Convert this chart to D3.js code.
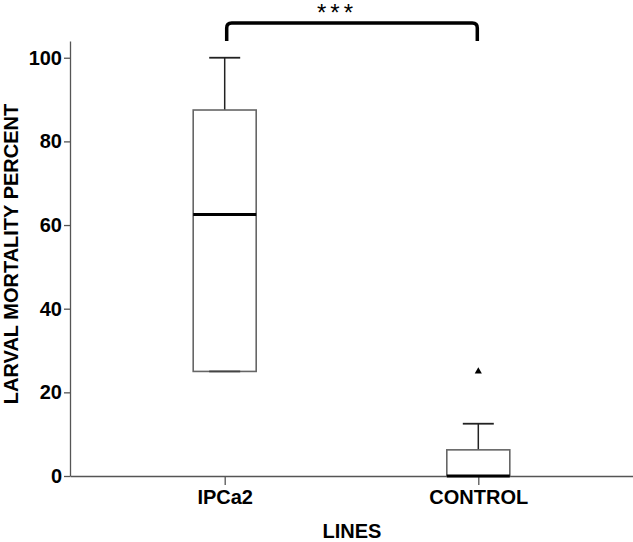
<!DOCTYPE html>
<html>
<head>
<meta charset="utf-8">
<script src="https://cdn.jsdelivr.net/npm/d3@7"></script>
<style>
  body { margin: 0; background: #fff; }
  #chart { width: 633px; height: 542px; }
  text { font-family: Arial, "Liberation Sans", sans-serif; }
</style>
</head>
<body>
<div id="chart"></div>
<script>
// box plot values (percent)
var categories = ["IPCa2", "CONTROL"];
var whiskerLow = [25, 0];
var q1 = [25, 0];
var median = [62.5, 0];
var q3 = [87.5, 6.25];
var whiskerHigh = [100, 12.5];
var outliers = [[], [25]];
var yTicks = [0, 20, 40, 60, 80, 100];

function init() {
    var w = 633, h = 542;
    var svg = d3.select("#chart").append("svg")
                .attr("width", w)
                .attr("height", h);

    var x = d3.scalePoint()
              .domain(categories)
              .range([70, 633])
              .padding(0.61);

    var y = d3.scaleLinear()
              .domain([0, 104])
              .range([476, 41]);

    // axes
    var yAxis = svg.append("g")
        .attr("transform", "translate(70,0)")
        .call(d3.axisLeft(y).tickValues(yTicks).tickSize(6).tickSizeOuter(0).tickPadding(2));
    var xAxis = svg.append("g")
        .attr("transform", "translate(0," + y(0) + ")")
        .call(d3.axisBottom(x).tickSize(9).tickSizeOuter(0).tickPadding(5));

    [yAxis, xAxis].forEach(function(a) {
        a.selectAll("path, line").attr("stroke", "#555").attr("stroke-width", 1.3);
        a.selectAll("text")
         .attr("fill", "#000")
         .style("font-size", "20px")
         .style("font-weight", "bold");
    });

    var boxW = 63, capW = 31;
    var rows = categories.map(function(c, i) {
        return { c: c, lo: whiskerLow[i], q1: q1[i], med: median[i], q3: q3[i], hi: whiskerHigh[i], out: outliers[i] };
    });

    var g = svg.selectAll("g.box").data(rows).enter().append("g").attr("class", "box");

    // whiskers
    g.append("line")
        .attr("x1", function(d) { return x(d.c); })
        .attr("x2", function(d) { return x(d.c); })
        .attr("y1", function(d) { return y(d.q3); })
        .attr("y2", function(d) { return y(d.hi); })
        .attr("stroke", "#222").attr("stroke-width", 1.5);
    g.append("line")
        .attr("x1", function(d) { return x(d.c) - capW / 2; })
        .attr("x2", function(d) { return x(d.c) + capW / 2; })
        .attr("y1", function(d) { return y(d.hi); })
        .attr("y2", function(d) { return y(d.hi); })
        .attr("stroke", "#222").attr("stroke-width", 1.8);

    // box
    g.append("rect")
        .attr("x", function(d) { return x(d.c) - boxW / 2; })
        .attr("width", boxW)
        .attr("y", function(d) { return y(d.q3); })
        .attr("height", function(d) { return y(d.q1) - y(d.q3); })
        .attr("fill", "#fff")
        .attr("stroke", "#666").attr("stroke-width", 1.6);

    // lower whisker cap
    g.append("line")
        .attr("x1", function(d) { return x(d.c) - capW / 2; })
        .attr("x2", function(d) { return x(d.c) + capW / 2; })
        .attr("y1", function(d) { return y(d.lo); })
        .attr("y2", function(d) { return y(d.lo); })
        .attr("stroke", "#444").attr("stroke-width", 1.8);

    // median
    g.append("line")
        .attr("x1", function(d) { return x(d.c) - boxW / 2; })
        .attr("x2", function(d) { return x(d.c) + boxW / 2; })
        .attr("y1", function(d) { return y(d.med); })
        .attr("y2", function(d) { return y(d.med); })
        .attr("stroke", "#000").attr("stroke-width", 3);

    // outliers
    g.selectAll("path.out")
        .data(function(d) { return d.out.map(function(v) { return { c: d.c, v: v }; }); })
        .enter().append("path")
        .attr("class", "out")
        .attr("d", d3.symbol(d3.symbolTriangle, 22))
        .attr("transform", function(d) { return "translate(" + x(d.c) + "," + y(d.v) + ")"; })
        .attr("fill", "#000");

    // significance bracket
    var x1 = x(categories[0]) + 2, x2 = x(categories[1]) - 1, top = 23, bot = 41, r = 5;
    svg.append("path")
        .attr("d", "M" + x1 + "," + bot + " L" + x1 + "," + (top + r) +
                   " Q" + x1 + "," + top + " " + (x1 + r) + "," + top +
                   " L" + (x2 - r) + "," + top +
                   " Q" + x2 + "," + top + " " + x2 + "," + (top + r) +
                   " L" + x2 + "," + bot)
        .attr("fill", "none")
        .attr("stroke", "#000")
        .attr("stroke-width", 3.5);

    svg.append("text")
        .attr("x", 337).attr("y", 21)
        .attr("text-anchor", "middle")
        .style("font-size", "24px")
        .style("letter-spacing", "4px")
        .text("***");

    // axis titles
    svg.append("text")
        .attr("x", 352).attr("y", 538)
        .attr("text-anchor", "middle")
        .style("font-size", "20px").style("font-weight", "bold")
        .text("LINES");
    svg.append("text")
        .attr("transform", "translate(18,254) rotate(-90)")
        .attr("text-anchor", "middle")
        .style("font-size", "20px").style("font-weight", "bold")
        .text("LARVAL MORTALITY PERCENT");
}

window.onload = init;
</script>
</body>
</html>
